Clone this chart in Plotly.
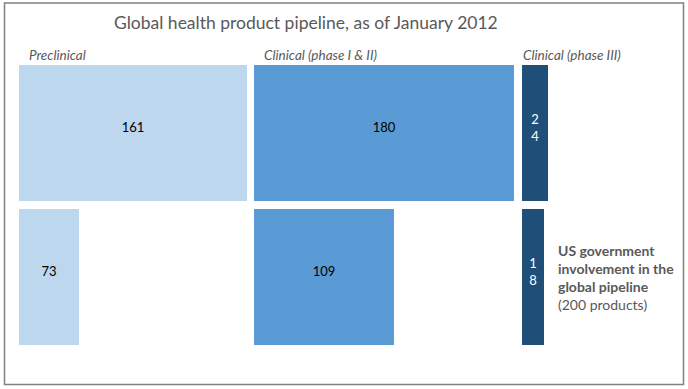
import plotly.graph_objects as go

# ---- data ----
stages = ["Preclinical", "Clinical (phase I & II)", "Clinical (phase III)"]
global_counts = [161, 180, 24]
us_counts = [73, 109, 18]
title_text = "Global health product pipeline, as of January 2012"
us_note_bold = "US government<br>involvement in the<br>global pipeline"
us_note_plain = "(200 products)"

# ---- layout constants (pixel-like coordinates) ----
col_left = [19, 254, 522]
global_widths = [228, 260, 26]
us_widths = [60, 140, 22]
row_top = [65, 209]
row_height = 136
colors = ["#BDD7EE", "#5B9BD5", "#1F4E79"]
text_colors = ["#000000", "#000000", "#FFFFFF"]
FONT = "Lato, 'Open Sans', sans-serif"

fig = go.Figure()

def label(v, w):
    s = str(v)
    return "<br>".join(s) if w < 40 else s

for row, (counts, widths) in enumerate([(global_counts, global_widths), (us_counts, us_widths)]):
    centers = [l + w / 2 for l, w in zip(col_left, widths)]
    fig.add_trace(go.Bar(
        x=centers, y=[row_height] * len(counts), base=[row_top[row]] * len(counts),
        width=widths, marker=dict(color=colors, line=dict(width=0)),
        hoverinfo="text", hovertext=[f"{s}: {c}" for s, c in zip(stages, counts)],
        showlegend=False,
    ))
    fig.add_trace(go.Scatter(
        x=centers, y=[row_top[row] + row_height / 2 - 4] * len(counts),
        mode="text", text=[label(c, w) for c, w in zip(counts, widths)],
        textfont=dict(family=FONT, size=13, color=text_colors),
        hoverinfo="skip", showlegend=False,
    ))

annotations = [
    dict(x=112, y=22, text=title_text, showarrow=False, xanchor="left", yanchor="middle",
         font=dict(family=FONT, size=17.5, color="#595959")),
]
label_x = [27, 262, 521]
for s, lx in zip(stages, label_x):
    annotations.append(dict(x=lx, y=55, text=f"<i>{s}</i>", showarrow=False,
                            xanchor="left", yanchor="middle",
                            font=dict(family=FONT, size=13.5, color="#595959")))
annotations.append(dict(x=556, y=268, text=f"<b>{us_note_bold}</b>", showarrow=False,
                        xanchor="left", yanchor="middle", align="left",
                        font=dict(family=FONT, size=14, color="#595959")))
annotations.append(dict(x=556, y=304, text=us_note_plain, showarrow=False,
                        xanchor="left", yanchor="middle", align="left",
                        font=dict(family=FONT, size=14, color="#595959")))

fig.update_layout(
    width=688, height=389, margin=dict(l=0, r=0, t=0, b=0),
    paper_bgcolor="white", plot_bgcolor="white",
    xaxis=dict(range=[0, 688], visible=False, fixedrange=True),
    yaxis=dict(range=[389, 0], visible=False, fixedrange=True),
    annotations=annotations, bargap=0,
    shapes=[dict(type="rect", xref="x", yref="y", x0=4.5, y0=3, x1=683.5, y1=384.5,
                 line=dict(color="#808080", width=1.5), fillcolor="rgba(0,0,0,0)")],
)

fig.write_html("out.html", config={"displayModeBar": False},
               post_script="document.body.style.margin='0';document.body.style.overflow='hidden';")
